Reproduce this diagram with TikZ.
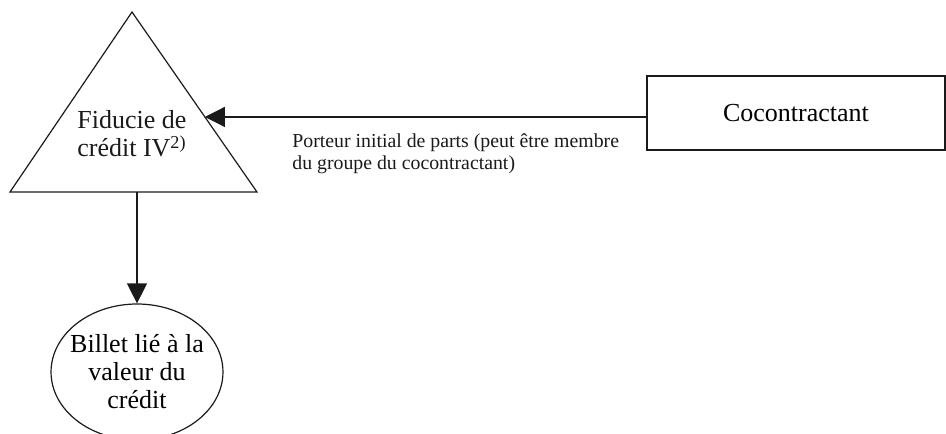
\documentclass[tikz,border=0pt]{standalone}
\usepackage{fontspec}
\setmainfont{Liberation Serif}
\usetikzlibrary{arrows.meta,positioning,shapes.geometric,calc}
\definecolor{ink}{HTML}{1A1A1A}
\tikzset{
  box/.style={draw=ink,line width=.6pt,minimum width=149pt,minimum height=37pt,inner sep=0pt,font=\fontsize{13}{14}\selectfont},
  ovl/.style={ellipse,draw=ink,line width=.6pt,minimum width=85.5pt,minimum height=68pt,inner xsep=-3pt,inner ysep=0pt,align=center,font=\fontsize{13}{14}\selectfont},
  plain/.style={align=center,inner sep=0pt,font=\fontsize{13}{14}\selectfont,text=ink},
  tiny/.style={align=left,inner sep=0pt,font=\fontsize{9.9}{11}\selectfont,text=ink},
  tri/.style={draw=ink,line width=.6pt,line join=miter},
  ar/.style={-{Triangle[length=10pt,width=10pt]},draw=ink,line width=.6pt},
}

\begin{document}
\begin{tikzpicture}[x=0.5pt,y=-0.5pt]
  \useasboundingbox (0,0) rectangle (946,433);

  % fiducie (triangle)
  \coordinate (apex) at (132,12);
  \coordinate (bl) at (10,192);
  \coordinate (br) at (257,192);
  \draw[tri] (apex) -- (br) -- (bl) -- cycle;
  \node[plain] (trust) at (132,134) {Fiducie de\\cr\'edit IV\textsuperscript{2)}};
  \coordinate (trustR) at ($(apex)!0.583!(br)$);

  \node[box] (cocon) at (796,113) {Cocontractant};
  \node[ovl] (billet) at (137,372) {Billet li\'e \`a la\\valeur du\\cr\'edit};

  \draw[ar] (trustR -| cocon.west) -- (trustR);
  \draw[ar] (billet.north |- bl) -- (billet.north);

  \node[tiny,anchor=west] (porteur) at (292,154) {Porteur initial de parts (peut \^etre membre\\du groupe du cocontractant)};
\end{tikzpicture}
\end{document}
